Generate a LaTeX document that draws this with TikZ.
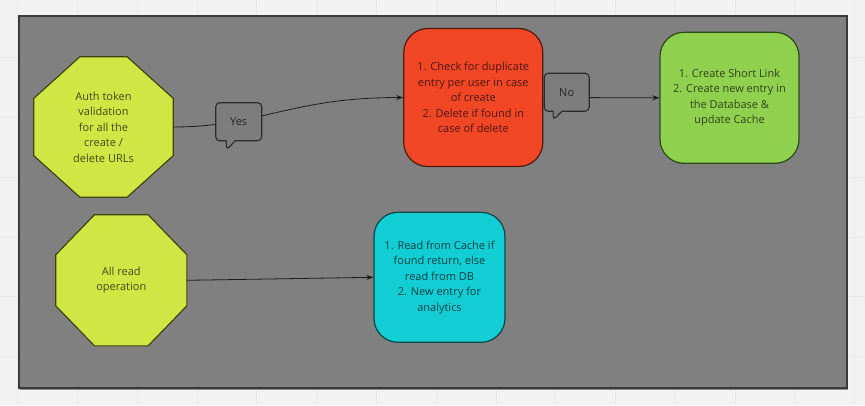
\documentclass[tikz,border=0pt]{standalone}
\usepackage{fontspec}
\setmainfont{Open Sans}
\usetikzlibrary{shapes.callouts,arrows.meta,calc}
\definecolor{pagebg}{HTML}{F2F2F2}
\definecolor{gridc}{HTML}{E8E8E8}
\definecolor{panelc}{HTML}{808080}
\definecolor{panelb}{HTML}{3A3A3A}
\definecolor{limec}{HTML}{CFE645}
\definecolor{limeb}{HTML}{3D4410}
\definecolor{redc}{HTML}{F24726}
\definecolor{redb}{HTML}{4D1A0D}
\definecolor{greenc}{HTML}{8FD14F}
\definecolor{greenb}{HTML}{2A4A14}
\definecolor{cyanc}{HTML}{12CDD4}
\definecolor{cyanb}{HTML}{0A4548}
\definecolor{callc}{HTML}{7D7D7D}
\definecolor{callb}{HTML}{2B2B2B}
\definecolor{linec}{HTML}{1E1E1E}
\newcommand\myocta[3]{\draw[octa] ($(#1.north west)+(#2,0)$) -- ($(#1.north east)+(-#2,0)$) -- ($(#1.north east)+(0,#3)$) -- ($(#1.south east)+(0,-#3)$) -- ($(#1.south east)+(-#2,0)$) -- ($(#1.south west)+(#2,0)$) -- ($(#1.south west)+(0,-#3)$) -- ($(#1.north west)+(0,#3)$) -- cycle;}
\tikzset{
  txt/.style={text=black, text opacity=0.68, align=center, font=\fontsize{11}{15.5}\selectfont, inner sep=0pt},
  octa/.style={fill=limec, draw=limeb, line width=1.2pt, line join=miter},
  roundbox/.style={rounded corners=24pt, line width=1.2pt, inner sep=0pt, txt},
  callbox/.style={rectangle callout, fill=callc, draw=callb, line width=1.1pt, rounded corners=4pt, minimum width=46pt, minimum height=38pt, inner sep=0pt, callout pointer width=9pt, text=black, text opacity=0.7, font=\fontsize{11}{13}\selectfont},
  conn/.style={draw=linec, line width=0.8pt},
  arr/.style={conn, -{Stealth[length=7pt,width=5pt]}}
}
\begin{document}
\begin{tikzpicture}[x=1pt,y=-1pt]
\useasboundingbox (0,0) rectangle (865,405);
\fill[pagebg] (0,0) rectangle (865,405);
\foreach \i in {0,...,14} {\draw[gridc, line width=0.6pt] (17.4+59.8*\i,0) -- ++(0,405);}
\foreach \i in {0,...,7} {\draw[gridc, line width=0.6pt] (0,-2.3+59.8*\i) -- ++(865,0);}
% panel
\fill[black!45] (20,17.5) rectangle (848,389.5);
\filldraw[fill=panelc, draw=panelb, line width=1.2pt] (19,16) rectangle (847,388);
% octagon nodes (frames)
\node[minimum width=139pt, minimum height=140pt, inner sep=0pt] (auth) at (103.5,127) {};
\myocta{auth}{46}{41.5}
\node[txt] (authtext) at (auth.center) {Auth token\\validation\\for all the\\create /\\delete URLs};
\node[minimum width=130.7pt, minimum height=130.7pt, inner sep=0pt] (read) at (121.3,280.3) {};
\myocta{read}{38.7}{40}
\node[txt] (readtext) at (read.center) {All read\\operation};
% boxes
\node[roundbox, fill=redc, draw=redb, minimum width=139pt, minimum height=138pt] (chk) at (473.3,97.5) {1. Check for duplicate\\entry per user in case\\of create\\2. Delete if found in\\case of delete};
\node[roundbox, fill=greenc, draw=greenb, minimum width=139pt, minimum height=131pt] (create) at (729.5,97.8) {1. Create Short Link\\2. Create new entry in\\the Database \&\\update Cache};
\node[roundbox, fill=cyanc, draw=cyanb, minimum width=131pt, minimum height=130pt] (cache) at (439.5,277.3) {1. Read from Cache if\\found return, else\\read from DB\\2. New entry for\\analytics};
% connectors
\draw[arr] (auth.east) .. controls (260,127) and (290,97.5) .. (chk.west);
\draw[arr] (chk.east) -- (create.west);
\draw[arr] (read.east) -- (cache.west);
% callout labels
\node[callbox, callout absolute pointer={(226.7,150)}] (yes) at (238.7,121.7) {Yes};
\node[callbox, minimum width=45pt, callout absolute pointer={(553.3,120)}] (no) at (566.7,92.2) {No};
\end{tikzpicture}
\end{document}
